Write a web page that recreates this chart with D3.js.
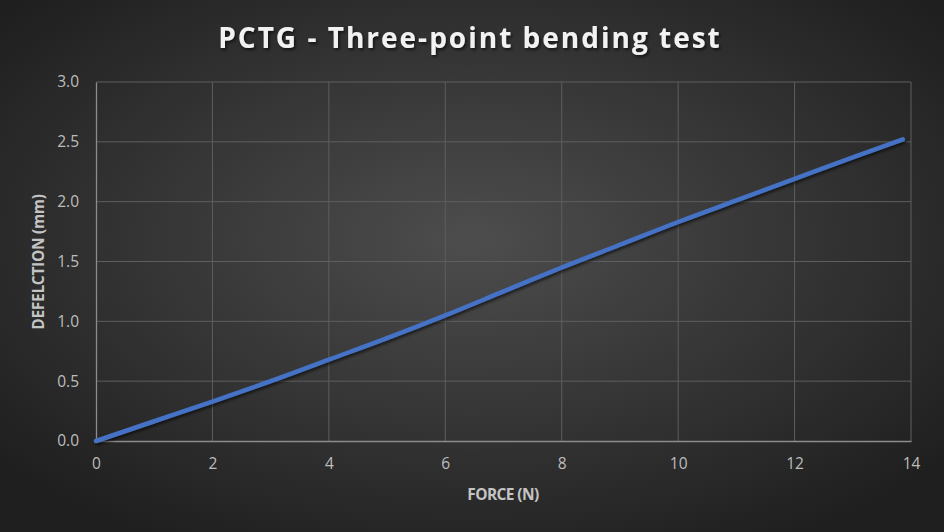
<!DOCTYPE html>
<html>
<head>
<meta charset="utf-8">
<script src="https://cdn.jsdelivr.net/npm/d3@7"></script>
<style>
  html, body { margin: 0; padding: 0; background: #262626; }
  svg { display: block; }
</style>
</head>
<body>
<div id="grafica"></div>
<script>
// Datos
const force = [0, 1, 2, 3, 4, 5, 6, 7, 8, 9, 10, 11, 12, 13, 13.86];
const deflection = [0, 0.165, 0.33, 0.50, 0.68, 0.86, 1.05, 1.25, 1.45, 1.64, 1.83, 2.01, 2.19, 2.37, 2.52];
const xTicks = [0, 2, 4, 6, 8, 10, 12, 14];
const yTicks = [0, 0.5, 1.0, 1.5, 2.0, 2.5, 3.0];

const width = 944, height = 532;
const margin = { top: 82, right: 33, bottom: 91, left: 96 };

const svg = d3.select("#grafica")
  .append("svg")
  .attr("width", width)
  .attr("height", height);

const defs = svg.append("defs");

// fondo con degradado radial
const grad = defs.append("radialGradient")
  .attr("id", "fondo")
  .attr("cx", "50%").attr("cy", "45%").attr("r", "65%");
grad.append("stop").attr("offset", "0%").attr("stop-color", "#4d4d4d");
grad.append("stop").attr("offset", "100%").attr("stop-color", "#1f1f1f");

const sombra = defs.append("filter").attr("id", "sombra")
  .attr("x", "-10%").attr("y", "-10%").attr("width", "120%").attr("height", "130%");
sombra.append("feDropShadow")
  .attr("dx", 1.5).attr("dy", 2).attr("stdDeviation", 1.5)
  .attr("flood-color", "#000").attr("flood-opacity", 0.6);

svg.append("rect")
  .attr("width", width).attr("height", height)
  .attr("fill", "url(#fondo)");

const x = d3.scaleLinear().domain([0, 14]).range([margin.left, width - margin.right]);
const y = d3.scaleLinear().domain([0, 3]).range([height - margin.bottom, margin.top]);

// rejilla
svg.append("g")
  .selectAll("line.v")
  .data(xTicks.slice(1))
  .join("line")
  .attr("x1", d => x(d)).attr("x2", d => x(d))
  .attr("y1", y(0)).attr("y2", y(3))
  .attr("stroke", "#5e5e5e").attr("stroke-width", 1);

svg.append("g")
  .selectAll("line.h")
  .data(yTicks.slice(1))
  .join("line")
  .attr("x1", x(0)).attr("x2", x(14))
  .attr("y1", d => y(d)).attr("y2", d => y(d))
  .attr("stroke", "#5e5e5e").attr("stroke-width", 1);

// ejes
const xAxis = svg.append("g")
  .attr("transform", `translate(0,${y(0)})`)
  .call(d3.axisBottom(x).tickValues(xTicks).tickSize(0).tickPadding(17).tickFormat(d3.format("d")));
const yAxis = svg.append("g")
  .attr("transform", `translate(${x(0)},0)`)
  .call(d3.axisLeft(y).tickValues(yTicks).tickSize(0).tickPadding(17).tickFormat(d3.format(".1f")));

[xAxis, yAxis].forEach(g => {
  g.select(".domain").attr("stroke", "#8c8c8c").attr("stroke-width", 1.3);
  g.selectAll("text")
    .attr("fill", "#bdbdbd")
    .style("font-family", "'Open Sans', sans-serif")
    .style("font-size", "15.5px");
});
xAxis.selectAll("text").attr("dy", "0.71em");

// linea de datos
const datos = force.map((f, i) => [f, deflection[i]]);
svg.append("path")
  .datum(datos)
  .attr("fill", "none")
  .attr("stroke", "#4472c4")
  .attr("stroke-width", 4.5)
  .attr("stroke-linecap", "round")
  .attr("stroke-linejoin", "round")
  .attr("filter", "url(#sombra)")
  .attr("d", d3.line().x(d => x(d[0])).y(d => y(d[1])).curve(d3.curveMonotoneX));

// titulos
svg.append("text")
  .attr("x", 470).attr("y", 48)
  .attr("text-anchor", "middle")
  .attr("fill", "#f2f2f2")
  .attr("filter", "url(#sombra)")
  .style("font-family", "'Open Sans', sans-serif")
  .style("font-weight", "bold")
  .style("font-size", "28px")
  .style("letter-spacing", "2px")
  .text("PCTG - Three-point bending test");

svg.append("text")
  .attr("x", 503).attr("y", 500)
  .attr("text-anchor", "middle")
  .attr("fill", "#c4c4c4")
  .style("font-family", "'Open Sans', sans-serif")
  .style("font-weight", "bold")
  .style("font-size", "15.5px")
  .style("letter-spacing", "-0.6px")
  .text("FORCE (N)");

svg.append("text")
  .attr("transform", "translate(44,262) rotate(-90)")
  .attr("text-anchor", "middle")
  .attr("fill", "#c4c4c4")
  .style("font-family", "'Open Sans', sans-serif")
  .style("font-weight", "bold")
  .style("font-size", "15.5px")
  .style("letter-spacing", "-0.3px")
  .text("DEFELCTION (mm)");
</script>
</body>
</html>
